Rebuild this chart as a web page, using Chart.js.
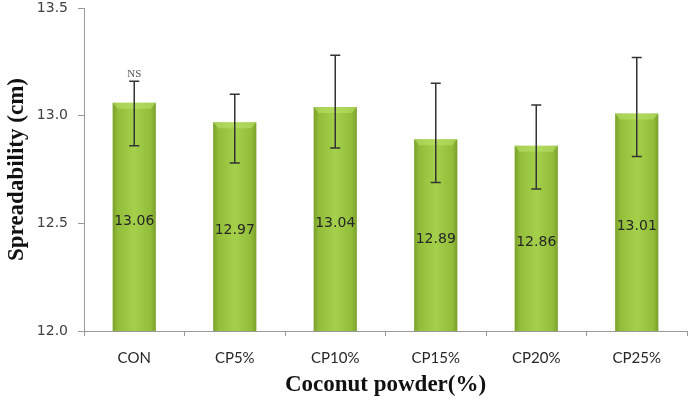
<!DOCTYPE html>
<html>
<head>
<meta charset="utf-8">
<script src="https://cdn.jsdelivr.net/npm/chart.js@4/dist/chart.umd.min.js"></script>
<style>
  html, body { margin: 0; padding: 0; background: #fff; }
  #wrap { width: 689px; height: 403px; }
</style>
</head>
<body>
<div id="wrap"><canvas id="c" width="689" height="403"></canvas></div>
<script>
const categories = ['CON', 'CP5%', 'CP10%', 'CP15%', 'CP20%', 'CP25%'];
const values = [13.06, 12.97, 13.04, 12.89, 12.86, 13.01];
const valueLabels = ['13.06', '12.97', '13.04', '12.89', '12.86', '13.01'];
const errHigh = [13.16, 13.10, 13.28, 13.15, 13.05, 13.27];
const errLow = [12.86, 12.78, 12.85, 12.69, 12.66, 12.81];
const yTicks = [12.0, 12.5, 13.0, 13.5];
const noteLabels = ['NS', '', '', '', '', ''];

const BAR_PCT = 0.43;

function barFill(ctx) {
  const chart = ctx.chart;
  const xs = chart.scales && chart.scales.x;
  if (!xs || !isFinite(xs.left) || xs.width <= 0) return '#9cc83f';
  const cx = xs.getPixelForValue(ctx.dataIndex);
  const w = (xs.width / categories.length) * BAR_PCT;
  if (!isFinite(cx) || !isFinite(w)) return '#9cc83f';
  const g = chart.ctx.createLinearGradient(cx - w / 2, 0, cx + w / 2, 0);
  g.addColorStop(0, '#7aa02a');
  g.addColorStop(0.12, '#92bd3a');
  g.addColorStop(0.5, '#a5d04b');
  g.addColorStop(0.88, '#92bd3a');
  g.addColorStop(1, '#7aa02a');
  return g;
}

const overlay = {
  id: 'overlay',
  afterDatasetsDraw(chart) {
    const ctx = chart.ctx;
    const y = chart.scales.y;
    const baseY = y.getPixelForValue(y.min);
    const meta = chart.getDatasetMeta(0);
    ctx.save();
    meta.data.forEach((bar) => {
      const half = bar.width / 2;
      ctx.fillStyle = 'rgba(190,228,110,0.55)';
      ctx.beginPath();
      ctx.moveTo(bar.x - half, bar.y);
      ctx.lineTo(bar.x + half, bar.y);
      ctx.lineTo(bar.x + half - 5, bar.y + 6);
      ctx.lineTo(bar.x - half + 5, bar.y + 6);
      ctx.closePath();
      ctx.fill();
    });
    // value labels
    ctx.font = '14px "DejaVu Sans"';
    ctx.fillStyle = '#262626';
    ctx.textAlign = 'center';
    ctx.textBaseline = 'middle';
    meta.data.forEach((bar, i) => {
      const mid = (bar.y + baseY) / 2 + 4;
      ctx.fillText(valueLabels[i], bar.x, mid);
    });
    // error bars
    ctx.strokeStyle = '#333';
    ctx.lineWidth = 1.5;
    meta.data.forEach((bar, i) => {
      const yt = y.getPixelForValue(errHigh[i]);
      const yb = y.getPixelForValue(errLow[i]);
      ctx.beginPath();
      ctx.moveTo(bar.x, yt); ctx.lineTo(bar.x, yb);
      ctx.moveTo(bar.x - 5, yt); ctx.lineTo(bar.x + 5, yt);
      ctx.moveTo(bar.x - 5, yb); ctx.lineTo(bar.x + 5, yb);
      ctx.stroke();
    });
    // notes
    ctx.font = '11px "Liberation Serif"';
    ctx.fillStyle = '#555';
    ctx.textBaseline = 'bottom';
    meta.data.forEach((bar, i) => {
      if (noteLabels[i]) {
        ctx.fillText(noteLabels[i], bar.x, y.getPixelForValue(errHigh[i]) - 2);
      }
    });
    ctx.restore();
  }
};

new Chart(document.getElementById('c'), {
  type: 'bar',
  data: {
    labels: categories,
    datasets: [{
      data: values,
      backgroundColor: barFill,
      borderWidth: 0,
      barPercentage: BAR_PCT,
      categoryPercentage: 1.0
    }]
  },
  options: {
    responsive: false,
    animation: false,
    devicePixelRatio: 1,
    layout: { padding: { top: 8, right: 2, left: 0, bottom: 0 } },
    plugins: { legend: { display: false }, tooltip: { enabled: false } },
    scales: {
      x: {
        offset: true,
        grid: { display: true, drawOnChartArea: false, offset: true, tickLength: 5, color: '#999' },
        border: { display: true, color: '#999', width: 1 },
        ticks: { color: '#262626', font: { family: 'Lato', size: 15 }, padding: 13, maxRotation: 0 },
        title: {
          display: true,
          text: 'Coconut powder(%)',
          color: '#111',
          font: { family: '"Liberation Serif"', size: 23, weight: 'bold' },
          padding: { top: 0, bottom: 4 }
        },
        afterFit(scale) { scale.height = 72; }
      },
      y: {
        min: 12.0,
        max: 13.5,
        afterBuildTicks(scale) { scale.ticks = yTicks.map(v => ({ value: v })); },
        grid: { display: true, drawOnChartArea: false, tickLength: 6, color: '#999' },
        border: { display: true, color: '#999', width: 1 },
        ticks: {
          color: '#404040',
          font: { family: '"DejaVu Sans"', size: 14 },
          padding: 10,
          callback: v => Number(v).toFixed(1)
        },
        title: {
          display: true,
          text: 'Spreadability (cm)',
          color: '#111',
          font: { family: '"Liberation Serif"', size: 23, weight: 'bold' },
          padding: { top: 3, bottom: 0 }
        },
        afterFit(scale) { scale.width = 84; scale.paddingTop = 8; scale.paddingBottom = 8; }
      }
    }
  },
  plugins: [overlay]
});
</script>
</body>
</html>
